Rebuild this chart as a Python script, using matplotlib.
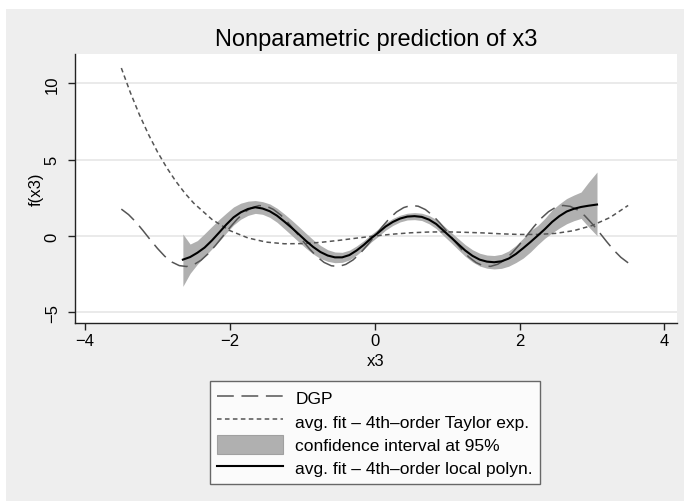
import matplotlib
matplotlib.use('Agg')
import matplotlib.pyplot as plt
from matplotlib.patches import Rectangle, Patch
from matplotlib.lines import Line2D

plt.rcParams['font.family'] = ['Liberation Sans', 'DejaVu Sans']

# DGP curve
dgp_x = [-3.5, -3.4, -3.3, -3.2, -3.1, -3.0, -2.9, -2.8, -2.7, -2.6, -2.5, -2.4,
         -2.3, -2.2, -2.1, -2.0, -1.9, -1.8, -1.7, -1.6, -1.5, -1.4, -1.3, -1.2,
         -1.1, -1.0, -0.9, -0.8, -0.7, -0.6, -0.5, -0.4, -0.3, -0.2, -0.1, 0.0,
         0.1, 0.2, 0.3, 0.4, 0.5, 0.6, 0.7, 0.8, 0.9, 1.0, 1.1, 1.2, 1.3, 1.4,
         1.5, 1.6, 1.7, 1.8, 1.9, 2.0, 2.1, 2.2, 2.3, 2.4, 2.5, 2.6, 2.7, 2.8,
         2.9, 3.0, 3.1, 3.2, 3.3, 3.4, 3.5]
dgp_y = [1.76, 1.40, 0.92, 0.35, -0.25, -0.82, -1.33, -1.71, -1.94, -2.00, -1.88, -1.59,
         -1.16, -0.62, -0.03, 0.56, 1.10, 1.55, 1.85, 1.99, 1.96, 1.74, 1.38, 0.89,
         0.32, -0.28, -0.85, -1.35, -1.73, -1.95, -2.00, -1.86, -1.57, -1.13, -0.59, 0.00,
         0.59, 1.13, 1.57, 1.86, 2.00, 1.95, 1.73, 1.35, 0.85, 0.28, -0.32, -0.89, -1.38, -1.74,
         -1.96, -1.99, -1.85, -1.55, -1.10, -0.56, 0.03, 0.62, 1.16, 1.59, 1.88, 2.00, 1.94, 1.71,
         1.33, 0.82, 0.25, -0.35, -0.92, -1.40, -1.76]

# average fit, 4th-order Taylor expansion
taylor_x = [-3.5, -3.375, -3.25, -3.125, -3.0, -2.875, -2.75, -2.625, -2.5, -2.25,
            -2.0, -1.75, -1.5, -1.25, -1.0, -0.75, -0.5, -0.25, 0.0, 0.25, 0.5,
            0.75, 1.0, 1.25, 1.5, 1.75, 2.0, 2.25, 2.5, 2.75, 3.0, 3.25, 3.5]
taylor_y = [11.0, 9.39, 7.94, 6.65, 5.50, 4.49, 3.60, 2.82, 2.15, 1.09,
            0.35, -0.13, -0.40, -0.51, -0.50, -0.42, -0.29, -0.14, 0.0, 0.12, 0.21,
            0.26, 0.27, 0.24, 0.20, 0.14, 0.10, 0.10, 0.17, 0.35, 0.68, 1.21, 2.00]

# average fit, 4th-order local polynomial, with 95% band
loc_x = [-2.65, -2.55, -2.45, -2.35, -2.25, -2.15, -2.05, -1.95, -1.85, -1.75,
         -1.65, -1.55, -1.45, -1.35, -1.25, -1.15, -1.05, -0.95, -0.85, -0.75,
         -0.65, -0.55, -0.45, -0.35, -0.25, -0.15, -0.05, 0.05, 0.15, 0.25,
         0.35, 0.45, 0.55, 0.65, 0.75, 0.85, 0.95, 1.05, 1.15, 1.25,
         1.35, 1.45, 1.55, 1.65, 1.75, 1.85, 1.95, 2.05, 2.15, 2.25,
         2.35, 2.45, 2.55, 2.65, 2.75, 2.85, 2.95, 3.07]
loc_y = [-1.55, -1.38, -1.10, -0.76, -0.30, 0.22, 0.75, 1.22, 1.55, 1.77,
         1.88, 1.80, 1.62, 1.33, 0.95, 0.55, 0.12, -0.32, -0.72, -1.05,
         -1.28, -1.40, -1.40, -1.25, -0.95, -0.58, -0.15, 0.22, 0.62, 0.92,
         1.14, 1.27, 1.30, 1.25, 1.07, 0.78, 0.35, -0.08, -0.52, -0.95,
         -1.30, -1.55, -1.68, -1.72, -1.66, -1.48, -1.18, -0.80, -0.40, 0.02,
         0.45, 0.92, 1.30, 1.60, 1.78, 1.90, 1.98, 2.06]
ci_hi = [0.13, -0.53, -0.30, 0.15, 0.62, 1.08, 1.50, 1.90, 2.15, 2.28,
         2.32, 2.25, 2.10, 1.82, 1.45, 1.05, 0.62, 0.18, -0.25, -0.62,
         -0.90, -1.05, -1.07, -0.93, -0.65, -0.30, 0.10, 0.46, 0.86, 1.15,
         1.36, 1.49, 1.53, 1.49, 1.34, 1.08, 0.68, 0.26, -0.16, -0.57,
         -0.90, -1.13, -1.25, -1.28, -1.20, -0.98, -0.62, -0.15, 0.35, 0.68,
         1.15, 1.70, 2.10, 2.45, 2.68, 2.88, 3.50, 4.19]
ci_lo = [-3.30, -2.45, -1.85, -1.35, -0.85, -0.35, 0.20, 0.72, 1.10, 1.35,
         1.48, 1.42, 1.22, 0.90, 0.48, 0.05, -0.38, -0.80, -1.18, -1.48,
         -1.66, -1.75, -1.73, -1.57, -1.25, -0.86, -0.40, -0.02, 0.38, 0.69,
         0.92, 1.05, 1.07, 1.01, 0.80, 0.48, 0.02, -0.42, -0.88, -1.33,
         -1.70, -1.97, -2.11, -2.16, -2.12, -1.98, -1.74, -1.45, -1.05, -0.58,
         -0.15, 0.20, 0.52, 0.80, 1.00, 1.15, 0.62, 0.02]

legend_labels = ['DGP', 'avg. fit \u2013 4th\u2013order Taylor exp.',
                 'confidence interval at 95%', 'avg. fit \u2013 4th\u2013order local polyn.']

W, H = 684, 502
fig = plt.figure(figsize=(W / 100, H / 100), dpi=100, facecolor='white')
# Stata-like graph region
fig.patches.append(Rectangle((6 / W, 0), 1, 1 - 10 / H, transform=fig.transFigure,
                             facecolor='#eeeeee', edgecolor='none', zorder=-5))

ax = fig.add_axes([75 / W, 1 - 324 / H, (677 - 75) / W, (324 - 55) / H])
ax.set_zorder(2)
ax.set_facecolor('white')

band_col = '#b0b0b0'
ax.fill_between(loc_x, ci_lo, ci_hi, color=band_col, lw=0, zorder=2)
ax.plot(dgp_x, dgp_y, color='#555555', lw=1.1, dashes=(11, 5), zorder=3)
ax.plot(taylor_x, taylor_y, color='#555555', lw=1.1, dashes=(3, 2.2), zorder=3)
ax.plot(loc_x, loc_y, color='black', lw=1.5, zorder=4)

ax.set_xlim(-4.14, 4.175)
ax.set_ylim(-5.70, 11.92)
ax.set_xticks([-4, -2, 0, 2, 4])
ax.set_yticks([-5, 0, 5, 10])
ax.grid(axis='y', color='#e6e6e6', lw=1.2)
ax.set_axisbelow(True)
for s in ['top', 'right']:
    ax.spines[s].set_visible(False)
for s in ['left', 'bottom']:
    ax.spines[s].set_color('#222222')
    ax.spines[s].set_linewidth(1.0)
ax.tick_params(axis='both', length=5, width=1.0, color='#222222', labelsize=12)
ax.tick_params(axis='x', pad=2)
ax.tick_params(axis='y', pad=6)
for lab in ax.get_yticklabels():
    lab.set_rotation(90)
    lab.set_va('center')

ax.set_xlabel('x3', fontsize=12, labelpad=4)
ax.set_ylabel('f(x3)', fontsize=12, labelpad=1)

fig.text(376 / W, 1 - 40 / H, 'Nonparametric prediction of x3', fontsize=17,
         ha='center', va='center')

handles = [Line2D([], [], color='#555555', lw=1.1, dashes=(11, 5)),
           Line2D([], [], color='#555555', lw=1.1, dashes=(3, 2.2)),
           Patch(facecolor=band_col, edgecolor='#a0a0a0', lw=0.8),
           Line2D([], [], color='black', lw=1.5)]
leg = fig.legend(handles, legend_labels, loc='center',
                 bbox_to_anchor=(375 / W, 1 - 433.5 / H), fontsize=12.5,
                 frameon=True, fancybox=False, edgecolor='#444444',
                 handlelength=3.8, handleheight=1.3, labelspacing=0.25,
                 handletextpad=0.7, borderpad=0.4, borderaxespad=0)
leg.get_frame().set_linewidth(1.0)

fig.savefig('out.png', dpi=100, facecolor='white')
